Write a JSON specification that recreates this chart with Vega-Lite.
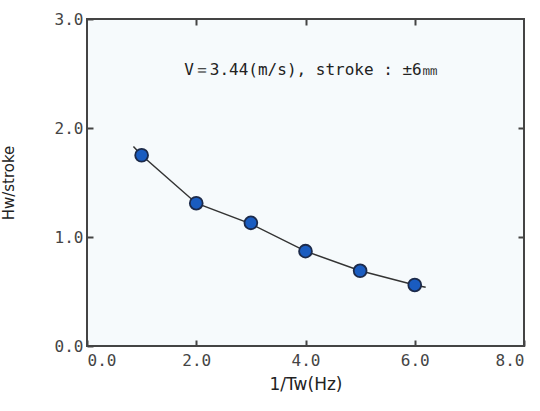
{
  "$schema": "https://vega.github.io/schema/vega-lite/v6.json",
  "autosize": {"type": "none"},
  "padding": {"left": 87, "top": 19, "right": 16, "bottom": 65},
  "width": 437,
  "height": 327,
  "background": "white",
  "config": {
    "view": {"stroke": "#444", "strokeWidth": 2, "fill": "#f6fafc"},
    "axis": {
      "grid": false,
      "domain": false,
      "tickSize": -6,
      "tickColor": "#444",
      "tickWidth": 2,
      "labelFont": "DejaVu Sans Mono",
      "labelFontSize": 16,
      "labelColor": "#444",
      "titleFont": "DejaVu Sans",
      "titleFontWeight": "normal",
      "titleColor": "#222",
      "titleFontSize": 15
    }
  },
  "datasets": {
    "pts": [
      {"f": 1, "hw": 1.75},
      {"f": 2, "hw": 1.31},
      {"f": 3, "hw": 1.13},
      {"f": 4, "hw": 0.87},
      {"f": 5, "hw": 0.69},
      {"f": 6, "hw": 0.56}
    ],
    "curve": [
      {"f": 0.85, "hw": 1.83},
      {"f": 1, "hw": 1.75},
      {"f": 2, "hw": 1.31},
      {"f": 3, "hw": 1.12},
      {"f": 4, "hw": 0.87},
      {"f": 5, "hw": 0.69},
      {"f": 6, "hw": 0.56},
      {"f": 6.2, "hw": 0.54}
    ]
  },
  "layer": [
    {
      "layer": [
        {
          "data": {"name": "curve"},
          "mark": {"type": "line", "color": "#333", "strokeWidth": 1.5},
          "encoding": {
            "x": {"field": "f", "type": "quantitative", "scale": {"domain": [0, 8], "nice": false},
              "axis": {"orient": "bottom", "title": "1/Tw(Hz)", "titleFontSize": 17, "values": [0, 2, 4, 6, 8], "format": ".1f", "labelPadding": 12, "titlePadding": 8}},
            "y": {"field": "hw", "type": "quantitative", "scale": {"domain": [0, 3], "nice": false},
              "axis": {"orient": "left", "title": "Hw/stroke", "values": [0, 1, 2, 3], "format": ".1f", "labelPadding": 10, "titlePadding": 38}}
          }
        },
        {
          "data": {"name": "pts"},
          "mark": {"type": "point", "filled": true, "shape": "circle", "size": 165, "fill": "#1a5cc0", "stroke": "#1c2a4a", "strokeWidth": 1.8, "opacity": 1},
          "encoding": {
            "x": {"field": "f", "type": "quantitative"},
            "y": {"field": "hw", "type": "quantitative"}
          }
        },
        {
          "data": {"values": [{"label": "V＝3.44(m/s), stroke : ±6㎜"}]},
          "mark": {"type": "text", "fontSize": 16, "color": "#222", "font": "DejaVu Sans Mono"},
          "encoding": {
            "x": {"datum": 4.1, "type": "quantitative"},
            "y": {"datum": 2.53, "type": "quantitative"},
            "text": {"field": "label"}
          }
        }
      ]
    },
    {
      "data": {"values": [{"f": 0, "hw": 0}]},
      "mark": {"type": "point", "opacity": 0},
      "encoding": {
        "x": {"field": "f", "type": "quantitative", "axis": {"orient": "top", "title": null, "labels": false, "values": [2, 4, 6]}},
        "y": {"field": "hw", "type": "quantitative", "axis": {"orient": "right", "title": null, "labels": false, "values": [1, 2]}}
      }
    }
  ],
  "resolve": {"axis": {"x": "independent", "y": "independent"}}
}
